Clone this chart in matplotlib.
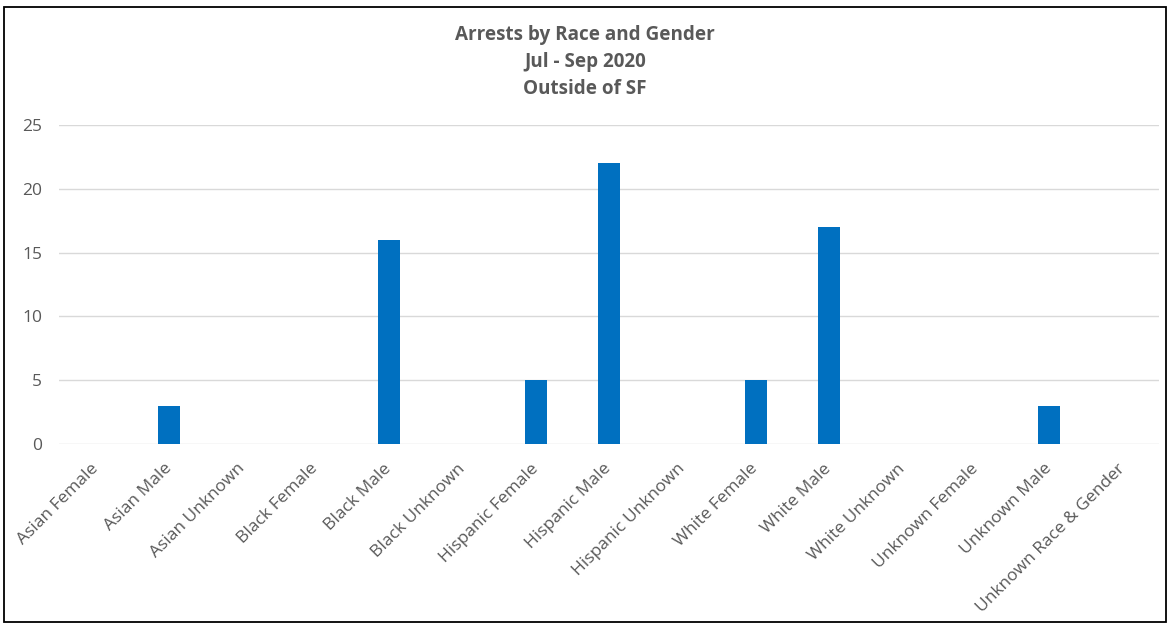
import matplotlib.pyplot as plt
from matplotlib.patches import Rectangle

categorias = ["Asian Female", "Asian Male", "Asian Unknown", "Black Female", "Black Male",
              "Black Unknown", "Hispanic Female", "Hispanic Male", "Hispanic Unknown",
              "White Female", "White Male", "White Unknown", "Unknown Female",
              "Unknown Male", "Unknown Race & Gender"]
arrestos = [0, 3, 0, 0, 16, 0, 5, 22, 0, 5, 17, 0, 0, 3, 0]
ticks_y = [0, 5, 10, 15, 20, 25]

gris = "#595959"
plt.rcParams['font.family'] = ['Open Sans', 'DejaVu Sans']

fig = plt.figure(figsize=(11.7, 6.24), dpi=100)
ax = fig.add_axes([59/1170, 1 - 444/624, 1100/1170, 319/624])

x = range(len(categorias))
ax.bar(x, arrestos, width=0.3, color="#0070C0", zorder=3)

ax.set_xlim(-0.5, len(categorias) - 0.5)
ax.set_ylim(0, 25)
ax.set_yticks(ticks_y)
ax.set_xticks(list(x))
ax.set_xticklabels(categorias, rotation=45, ha="right", va="center",
                   rotation_mode="anchor", fontsize=12.5, color=gris)
ax.tick_params(axis="x", length=0, pad=16)
ax.tick_params(axis="y", length=0, pad=12, labelsize=12.5, labelcolor=gris)
ax.grid(axis="y", color="#D9D9D9", linewidth=1, zorder=0)
for s in ax.spines.values():
    s.set_visible(False)

fig.text(0.5, 1 - 35/624, "Arrests by Race and Gender", ha="center", va="center",
         fontsize=13.6, fontweight="bold", color=gris)
fig.text(0.5, 1 - 62/624, "Jul - Sep 2020", ha="center", va="center",
         fontsize=13.6, fontweight="bold", color=gris)
fig.text(0.5, 1 - 89/624, "Outside of SF", ha="center", va="center",
         fontsize=13.6, fontweight="bold", color=gris)

# marco exterior
fig.patches.append(Rectangle((4/1170, 2/624), 1162/1170, 615/624, transform=fig.transFigure,
                             fill=False, edgecolor="black", linewidth=1.3))

fig.savefig("out.png", dpi=100)
